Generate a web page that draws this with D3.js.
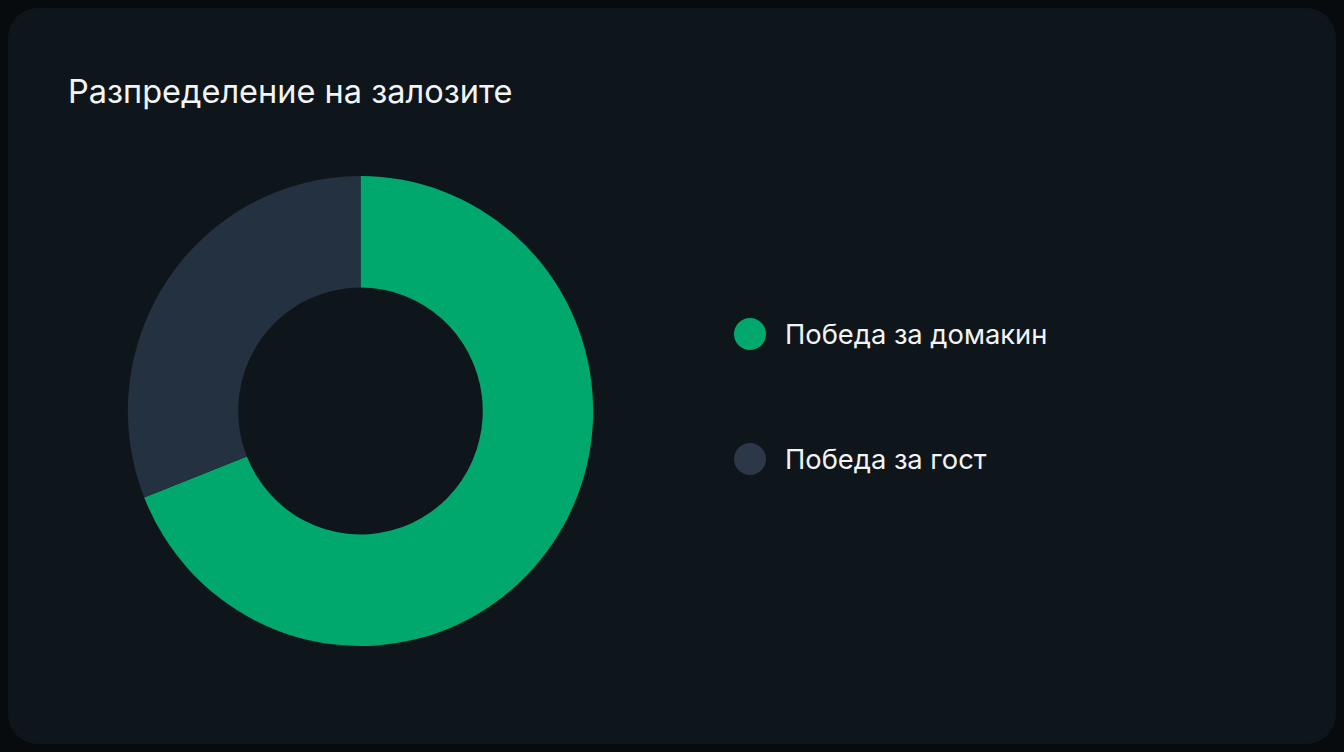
<!doctype html>
<html>
<head>
<meta charset="utf-8">
<script src="https://cdn.jsdelivr.net/npm/d3@7"></script>
<style>
  html, body { margin: 0; padding: 0; background: #080b0e; }
  svg { display: block; font-family: Inter, "Noto Sans", sans-serif; }
</style>
</head>
<body>
<svg id="chart" width="1344" height="752"></svg>
<script>
  // chart data
  var categories = ['Победа за домакин', 'Победа за гост'];
  var values = [69, 31];
  var colors = ['#00a86d', '#243140'];
  var legendColors = ['#00a86d', '#2c3847'];
  var title = 'Разпределение на залозите';

  var svg = d3.select('#chart');

  // card
  svg.append('rect')
    .attr('x', 8).attr('y', 8)
    .attr('width', 1328).attr('height', 736)
    .attr('rx', 30).attr('ry', 30)
    .attr('fill', '#0f161b');

  svg.append('text')
    .attr('x', 68).attr('y', 103)
    .attr('fill', '#f2f4f5')
    .attr('font-size', 32.5)
    .text(title);

  var data = categories.map(function (c, i) {
    return { name: c, value: values[i], color: colors[i], legend: legendColors[i] };
  });

  var pie = d3.pie()
    .value(function (d) { return d.value; })
    .sort(null);

  var arc = d3.arc()
    .innerRadius(123.5)
    .outerRadius(235);

  // the source donut is a touch narrower than tall
  var g = svg.append('g').attr('transform', 'translate(360.5,411) scale(0.99,1)');
  g.selectAll('path')
    .data(pie(data))
    .enter()
    .append('path')
    .attr('d', arc)
    .attr('fill', function (d) { return d.data.color; });

  // legend
  var y = d3.scalePoint()
    .domain(categories)
    .range([334, 459]);

  var legend = svg.append('g').selectAll('g')
    .data(data)
    .enter()
    .append('g')
    .attr('transform', function (d) { return 'translate(750,' + y(d.name) + ')'; });

  legend.append('circle')
    .attr('r', 16)
    .attr('fill', function (d) { return d.legend; });

  legend.append('text')
    .attr('x', 35)
    .attr('dy', '0.35em')
    .attr('fill', '#f2f4f5')
    .attr('font-size', 27.3)
    .text(function (d) { return d.name; });
</script>
</body>
</html>
